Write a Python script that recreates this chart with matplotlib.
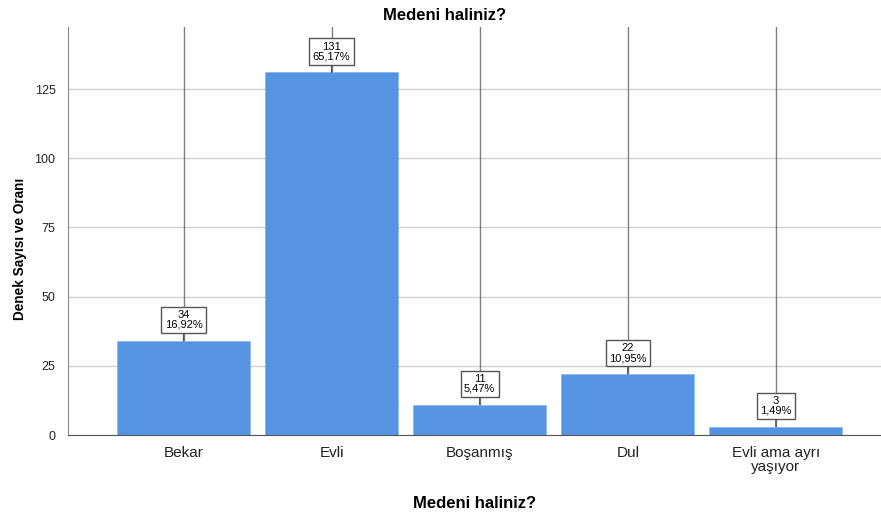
import matplotlib.pyplot as plt

plt.rcParams['font.family'] = ['Liberation Sans', 'DejaVu Sans']

categories = ['Bekar', 'Evli', 'Boşanmış', 'Dul', 'Evli ama ayrı\nyaşıyor']
counts = [34, 131, 11, 22, 3]
percents = ['16,92%', '65,17%', '5,47%', '10,95%', '1,49%']

fig = plt.figure(figsize=(8.81, 5.18), dpi=100)
ax = fig.add_axes([0.0772, 0.1602, 0.9228, 0.788])

x = list(range(len(categories)))
ymax = 147.5

# gray drop lines from the top down to each bar
for xi, c in zip(x, counts):
    ax.plot([xi, xi], [c, ymax], color='#808080', lw=1.0, zorder=1)

ax.bar(x, counts, width=0.9, color='#5594e2', edgecolor='#8fb8ee', linewidth=0.6, zorder=2)

for xi, c, p in zip(x, counts, percents):
    ax.annotate(str(c) + '\n' + p, xy=(xi, c), xytext=(0, 8), textcoords='offset points',
                ha='center', va='bottom', fontsize=8, linespacing=0.95,
                bbox=dict(boxstyle='square,pad=0.3', fc='white', ec='#555555', lw=1.0),
                arrowprops=dict(arrowstyle='-', color='#555555', lw=1.0, shrinkA=0, shrinkB=0),
                zorder=4)

ax.set_xlim(-0.78, 4.71)
ax.set_ylim(0, ymax)
ax.set_yticks([0, 25, 50, 75, 100, 125])
ax.yaxis.grid(True, color='#d0d0d0', lw=1.0, zorder=0)
ax.set_axisbelow(True)
ax.set_xticks(x)
ax.set_xticklabels(categories, fontsize=11, color='#222222', linespacing=1.0)
ax.tick_params(axis='y', labelsize=9, length=0, pad=9, colors='#222222')
ax.tick_params(axis='x', length=0, pad=8)

for s in ['top', 'right']:
    ax.spines[s].set_visible(False)
ax.spines['left'].set_color('#888888')
ax.spines['bottom'].set_color('#555555')

fig.text(0.505, 0.971, 'Medeni haliniz?', fontsize=12, fontweight='bold', ha='center', va='center')
ax.set_xlabel('Medeni haliniz?', fontsize=12, fontweight='bold', labelpad=16)
fig.text(0.0227, 0.52, 'Denek Sayısı ve Oranı', fontsize=9.8, fontweight='bold',
         rotation=90, ha='center', va='center')

fig.savefig('out.png', dpi=100)
